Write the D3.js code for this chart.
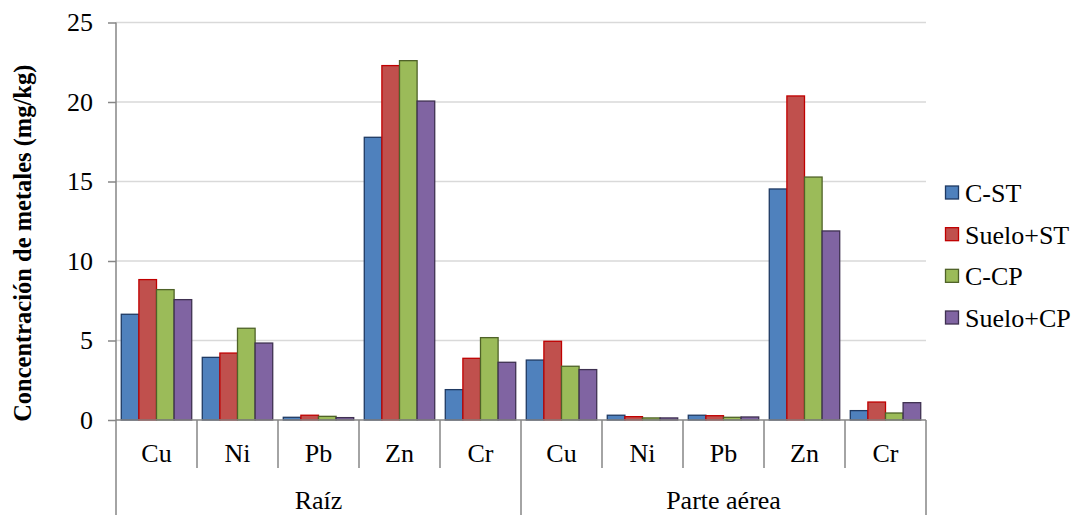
<!DOCTYPE html>
<html>
<head>
<meta charset="utf-8">
<script src="https://cdn.jsdelivr.net/npm/d3@7/dist/d3.min.js"></script>
<style>
  html, body { margin: 0; padding: 0; background: #fff; }
  svg { display: block; }
  svg text { font-family: "Liberation Serif", "Times New Roman", Times, serif !important; }
</style>
</head>
<body>
<svg id="chart" width="1077" height="515"></svg>
<script>
const metals = ["Cu", "Ni", "Pb", "Zn", "Cr"];
const groups = ["Raíz", "Parte aérea"];
const seriesNames = ["C-ST", "Suelo+ST", "C-CP", "Suelo+CP"];
const cST      = [6.65, 3.94, 0.17, 17.78, 1.91, 3.77, 0.30, 0.30, 14.53, 0.59];
const sueloST  = [8.83, 4.21, 0.30, 22.29, 3.88, 4.95, 0.21, 0.27, 20.38, 1.13];
const cCP      = [8.20, 5.77, 0.23, 22.60, 5.18, 3.38, 0.13, 0.17, 15.28, 0.44];
const sueloCP  = [7.57, 4.84, 0.15, 20.06, 3.63, 3.17, 0.13, 0.19, 11.89, 1.09];
const yTicks = [0, 5, 10, 15, 20, 25];
const yTitle = "Concentración de metales (mg/kg)";

(function () {
const seriesValues = [cST, sueloST, cCP, sueloCP];
const fills = ["#4F81BD", "#C0504D", "#9BBB59", "#8064A2"];
const strokes = ["#1F3A63", "#C00000", "#4F6228", "#3F3151"];
const FONT = '"Liberation Serif", "Times New Roman", Times, serif';

const categories = [];
groups.forEach(g => metals.forEach(m => categories.push({ group: g, metal: m, key: g + "|" + m })));

const svg = d3.select("#chart");
const pLeft = 116, pRight = 926, pTop = 22.5, pBottom = 420;

const x0 = d3.scaleBand().domain(categories.map(d => d.key)).range([pLeft, pRight]).padding(0);
const x1 = d3.scaleBand().domain(seriesNames).range([0, x0.bandwidth()]).paddingInner(0).paddingOuter(0.3);
const y = d3.scaleLinear().domain([0, 25]).range([pBottom, pTop]);

const axisColor = "#868686";

// gridlines
svg.append("g").selectAll("line").data(yTicks.filter(t => t > 0)).join("line")
  .attr("x1", pLeft).attr("x2", pRight)
  .attr("y1", d => y(d)).attr("y2", d => y(d))
  .attr("stroke", "#D9D9D9").attr("stroke-width", 1.5);

// bars
const barG = svg.append("g");
seriesNames.forEach((s, si) => {
  barG.append("g").selectAll("rect").data(categories).join("rect")
    .attr("x", d => x0(d.key) + x1(s))
    .attr("y", (d, i) => y(seriesValues[si][i]))
    .attr("width", x1.bandwidth())
    .attr("height", (d, i) => y(0) - y(seriesValues[si][i]))
    .attr("fill", fills[si])
    .attr("stroke", strokes[si])
    .attr("stroke-width", 1.3);
});

// y axis
const yAxis = svg.append("g").attr("transform", `translate(${pLeft},0)`)
  .call(d3.axisLeft(y).tickValues(yTicks).tickSize(8).tickPadding(15).tickFormat(d3.format("d")));
yAxis.attr("font-family", null).attr("font-size", null);
yAxis.select(".domain").remove();
yAxis.selectAll(".tick line").attr("stroke", axisColor).attr("stroke-width", 1.5);
yAxis.selectAll(".tick text").style("font-size", "26px").attr("fill", "#000");

// vertical axis line (extends to bottom)
svg.append("line").attr("x1", pLeft).attr("x2", pLeft).attr("y1", pTop).attr("y2", 515)
  .attr("stroke", axisColor).attr("stroke-width", 1.5);

// horizontal axis line
svg.append("line").attr("x1", pLeft).attr("x2", pRight).attr("y1", pBottom).attr("y2", pBottom)
  .attr("stroke", axisColor).attr("stroke-width", 1.5);

// category separators
categories.forEach((d, i) => {
  if (i === 0) return;
  const xx = x0(d.key);
  const isGroupBoundary = d.metal === metals[0];
  svg.append("line").attr("x1", xx).attr("x2", xx).attr("y1", pBottom).attr("y2", isGroupBoundary ? 515 : 468)
    .attr("stroke", axisColor).attr("stroke-width", 1.5);
});
svg.append("line").attr("x1", pRight).attr("x2", pRight).attr("y1", pBottom).attr("y2", 515)
  .attr("stroke", axisColor).attr("stroke-width", 1.5);

// category labels
svg.append("g").selectAll("text").data(categories).join("text")
  .attr("x", d => x0(d.key) + x0.bandwidth() / 2)
  .attr("y", 462)
  .attr("text-anchor", "middle").style("font-size", "26px").attr("fill", "#000")
  .text(d => d.metal);

// group labels
svg.append("g").selectAll("text").data(groups).join("text")
  .attr("x", g => {
    const keys = categories.filter(c => c.group === g).map(c => c.key);
    return (x0(keys[0]) + x0(keys[keys.length - 1]) + x0.bandwidth()) / 2;
  })
  .attr("y", 508.5)
  .attr("text-anchor", "middle").style("font-size", "26px").attr("fill", "#000")
  .text(g => g);

// y title
svg.append("text")
  .attr("transform", `translate(31,${(pTop + pBottom) / 2 + 22}) rotate(-90)`)
  .attr("text-anchor", "middle").style("font-size", "24.5px").style("font-weight", "bold").attr("fill", "#000")
  .text(yTitle);

// legend
const legend = svg.append("g");
const legendY = d3.scalePoint().domain(seriesNames).range([202, 327]);
seriesNames.forEach((s, si) => {
  const base = legendY(s);
  legend.append("rect").attr("x", 945.5).attr("y", base - 16).attr("width", 13).attr("height", 13)
    .attr("fill", fills[si]).attr("stroke", strokes[si]).attr("stroke-width", 1.3);
  legend.append("text").attr("x", 965).attr("y", base)
    .style("font-size", "26px").attr("fill", "#000").text(s);
});

svg.selectAll("text").style("font-family", FONT);
})();
</script>
</body>
</html>
